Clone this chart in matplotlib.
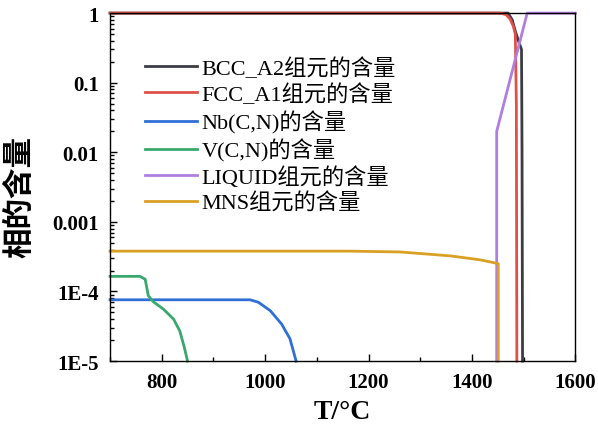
import matplotlib
matplotlib.use('Agg')
import matplotlib.pyplot as plt
from matplotlib.ticker import FixedLocator, LogLocator, NullFormatter, MultipleLocator

# 数据
bcc_T = [700, 1470, 1478, 1484, 1490, 1496, 1497, 1498]
bcc_v = [1, 1, 0.8, 0.55, 0.4, 0.3, 0.01, 1e-5]

fcc_T = [700, 1455, 1466, 1474, 1480, 1484, 1486, 1487]
fcc_v = [1, 1, 0.95, 0.82, 0.65, 0.5, 0.05, 1e-5]

nb_T = [700, 971, 987, 1010, 1032, 1048, 1060]
nb_v = [7.6e-5, 7.6e-5, 7.0e-5, 5.3e-5, 3.4e-5, 2.1e-5, 1e-5]

v_T = [700, 758, 768, 774, 784, 803, 823, 835, 843, 850]
v_v = [1.65e-4, 1.65e-4, 1.5e-4, 8.7e-5, 7.1e-5, 5.6e-5, 4e-5, 2.7e-5, 1.65e-5, 1e-5]

liq_T = [1448, 1448, 1507, 1600]
liq_v = [1e-5, 0.02, 1, 1]

mns_T = [700, 1068, 1164, 1261, 1358, 1416, 1445, 1451, 1451]
mns_v = [3.8e-4, 3.8e-4, 3.8e-4, 3.7e-4, 3.25e-4, 2.85e-4, 2.57e-4, 2.5e-4, 1e-5]

labels = ['BCC_A2组元的含量', 'FCC_A1组元的含量', 'Nb(C,N)的含量',
          'V(C,N)的含量', 'LIQUID组元的含量', 'MNS组元的含量']
colors = ['#3c3c46', '#e0504a', '#2f6fd6', '#3aa86e', '#b07ee0', '#d9a024']

yticks = [1e-5, 1e-4, 1e-3, 1e-2, 1e-1, 1]
yticklabels = ['1E-5', '1E-4', '0.001', '0.01', '0.1', '1']
xticks = [800, 1000, 1200, 1400, 1600]

serif = ['Liberation Serif', 'Noto Sans CJK SC']

fig = plt.figure(figsize=(5.98, 4.27), dpi=100)
ax = fig.add_axes([0.184, 0.152, 0.778, 0.815])

series = [(bcc_T, bcc_v), (fcc_T, fcc_v), (nb_T, nb_v),
          (v_T, v_v), (liq_T, liq_v), (mns_T, mns_v)]
for (t, v), lab, c in zip(series, labels, colors):
    ax.plot(t, v, color=c, lw=2, label=lab, clip_on=False)

ax.set_yscale('log')
ax.set_xlim(700, 1600)
ax.set_ylim(1e-5, 1)

ax.yaxis.set_major_locator(FixedLocator(yticks))
ax.set_yticklabels(yticklabels)
ax.yaxis.set_minor_locator(LogLocator(base=10, subs=range(2, 10), numticks=20))
ax.yaxis.set_minor_formatter(NullFormatter())
ax.set_xticks(xticks)
ax.xaxis.set_minor_locator(MultipleLocator(100))

ax.tick_params(which='both', direction='in', width=1, pad=8)
ax.tick_params(which='major', length=5)
ax.tick_params(which='minor', length=3)
for lab in ax.get_xticklabels() + ax.get_yticklabels():
    lab.set_fontfamily(serif)
    lab.set_fontweight('bold')
    lab.set_fontsize(15)

for s in ax.spines.values():
    s.set_linewidth(1)

ax.set_xlabel('T/°C', fontsize=20, fontweight='bold', family=serif)
ax.xaxis.set_label_coords(0.5, -0.108)
ax.set_ylabel('相的含量', fontsize=22, fontweight='bold',
              family=['Noto Sans CJK SC', 'DejaVu Sans'])
ax.yaxis.set_label_coords(-0.158, 0.475)

leg = ax.legend(loc='upper left', bbox_to_anchor=(0.075, 0.874), frameon=False,
                prop={'family': serif, 'size': 16}, handlelength=2.35,
                handletextpad=0.2, labelspacing=0.22, borderpad=0,
                borderaxespad=0)

fig.savefig('out.png', dpi=100)
